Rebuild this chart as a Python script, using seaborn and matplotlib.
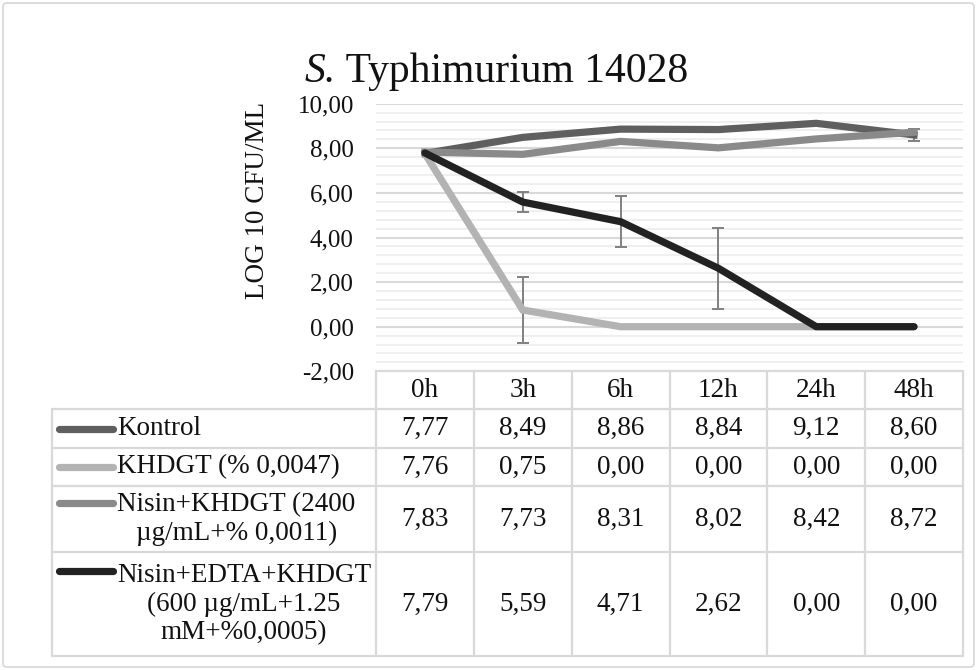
import matplotlib
matplotlib.use("Agg")
import matplotlib.pyplot as plt
import matplotlib.transforms as mtransforms
from matplotlib.lines import Line2D
from matplotlib.patches import FancyBboxPatch
from matplotlib.ticker import MultipleLocator, FuncFormatter
import numpy as np
import pandas as pd
import seaborn as sns

# ---------------- data ----------------
times = ["0h", "3h", "6h", "12h", "24h", "48h"]
series_names = [
    "Kontrol",
    "KHDGT (% 0,0047)",
    "Nisin+KHDGT (2400\nµg/mL+% 0,0011)",
    "Nisin+EDTA+KHDGT\n(600 µg/mL+1.25\nmM+%0,0005)",
]
kontrol = [7.77, 8.49, 8.86, 8.84, 9.12, 8.60]
khdgt = [7.76, 0.75, 0.00, 0.00, 0.00, 0.00]
nisin_khdgt = [7.83, 7.73, 8.31, 8.02, 8.42, 8.72]
nisin_edta_khdgt = [7.79, 5.59, 4.71, 2.62, 0.00, 0.00]

err_kontrol = [0, 0, 0, 0, 0, 0.28]
err_khdgt = [0, 1.48, 0, 0, 0, 0]
err_nisin_khdgt = [0, 0, 0, 0, 0, 0]
err_nisin_edta_khdgt = [0, 0.45, 1.14, 1.81, 0, 0]

title_italic = "S."
title_rest = " Typhimurium 14028"
y_label = "LOG 10 CFU/ML"

colors = ["#5f5f5f", "#b3b3b3", "#8a8a8a", "#222222"]
all_vals = [kontrol, khdgt, nisin_khdgt, nisin_edta_khdgt]
all_errs = [err_kontrol, err_khdgt, err_nisin_khdgt, err_nisin_edta_khdgt]

# ---------------- style ----------------
sns.set_theme(style="white")
plt.rcParams["font.family"] = ["Liberation Serif", "DejaVu Serif"]

W, H = 977, 670
fig = plt.figure(figsize=(W / 100, H / 100), dpi=100)
pix = mtransforms.Affine2D().scale(1 / W, -1 / H).translate(0, 1) + fig.transFigure

# outer border
fig.add_artist(FancyBboxPatch((3, 3), 971, 664, boxstyle="round,pad=0,rounding_size=4",
                              transform=pix, fill=False, ec="#d9d9d9", lw=1.3))

top_px, bot_px, left_px, right_px = 103.7, 371.3, 376, 963
ax = fig.add_axes([left_px / W, 1 - bot_px / H, (right_px - left_px) / W, (bot_px - top_px) / H])

# error bars (behind lines)
for vals, errs in zip(all_vals, all_errs):
    idx = [i for i, e in enumerate(errs) if e > 0]
    if idx:
        ax.errorbar(idx, [vals[i] for i in idx], yerr=[errs[i] for i in idx], fmt="none",
                    ecolor="#808080", elinewidth=1.4, capsize=4.5, capthick=1.4, zorder=2)

# lines
for name, vals, c in zip(series_names, all_vals, colors):
    df = pd.DataFrame({"time": times, "value": vals})
    sns.lineplot(data=df, x="time", y="value", color=c, linewidth=5.2, sort=False, ax=ax, zorder=3)
for ln, cap in zip(ax.lines[-4:], ["projecting", "butt", "projecting", "round"]):
    ln.set_solid_capstyle(cap)
    ln.set_solid_joinstyle("miter" if cap != "round" else "round")

ax.set_xlim(-0.5, len(times) - 0.5)
ax.set_ylim(-2, 10)
ax.yaxis.set_major_locator(MultipleLocator(2))
ax.yaxis.set_minor_locator(MultipleLocator(0.4))
ax.yaxis.set_major_formatter(FuncFormatter(lambda v, p: f"{v:.2f}".replace(".", ",")))
ax.grid(True, which="major", axis="y", color="#d9d9d9", lw=1.5, zorder=0)
ax.grid(True, which="minor", axis="y", color="#efefef", lw=1.4, zorder=0)
ax.grid(False, axis="x")
for s in ax.spines.values():
    s.set_visible(False)
ax.tick_params(axis="y", which="both", length=0, pad=16, labelsize=18, labelcolor="#111111")
ax.tick_params(axis="x", which="both", length=0, labelbottom=False)
ax.set_xlabel("")
ax.set_ylabel("")

# title (italic genus initial + regular rest), centred as a whole
renderer = fig.canvas.get_renderer()
t1 = fig.text(0, 0, title_italic, fontsize=30, style="italic", color="#111111",
              ha="left", va="baseline")
t2 = fig.text(0, 0, title_rest, fontsize=30, color="#111111", ha="left", va="baseline")
w1 = t1.get_window_extent(renderer).width
w2 = t2.get_window_extent(renderer).width
cx, base = 496, 82
x0 = cx - (w1 + w2) / 2
t1.set_transform(pix); t1.set_position((x0, base))
t2.set_transform(pix); t2.set_position((x0 + w1, base))

fig.text(257 / W, 1 - 200 / H, y_label, rotation=90, ha="center", va="center",
         fontsize=19.5, color="#111111")

# ---------------- data table ----------------
tcol = mtransforms.blended_transform_factory(ax.transData, pix)
row_edges = [bot_px, 409, 448, 486, 552, 656]
grid_c = "#d9d9d9"
tlw = 1.6
ncol = len(times)
col_edges = [i - 0.5 for i in range(ncol + 1)]
fig.add_artist(Line2D([-0.5, ncol - 0.5], [row_edges[0]] * 2, transform=tcol, color=grid_c, lw=tlw))
for y in row_edges[1:]:
    fig.add_artist(Line2D([52, right_px], [y, y], transform=pix, color=grid_c, lw=tlw))
for xe in col_edges:
    fig.add_artist(Line2D([xe, xe], [row_edges[0], row_edges[-1]], transform=tcol, color=grid_c, lw=tlw))
fig.add_artist(Line2D([52, 52], [row_edges[1], row_edges[-1]], transform=pix, color=grid_c, lw=tlw))

fs_tab = 19.5
hy = (row_edges[0] + row_edges[1]) / 2
for i, t in enumerate(times):
    fig.text(i, hy, t, transform=tcol, ha="center", va="center", fontsize=fs_tab, color="#111111")

line_step = 33
for r, (name, vals, c) in enumerate(zip(series_names, all_vals, colors)):
    cy = (row_edges[r + 1] + row_edges[r + 2]) / 2
    nlines = name.count("\n") + 1
    first_y = cy - (nlines - 1) / 2 * line_step
    fig.add_artist(Line2D([59, 113], [first_y, first_y], transform=pix, color=c, lw=5.2,
                          solid_capstyle="round"))
    fig.text(117, cy, name, transform=pix, ha="left", va="center", multialignment="center",
             fontsize=fs_tab, color="#111111", linespacing=1.2)
    for i, v in enumerate(vals):
        fig.text(i, cy, f"{v:.2f}".replace(".", ","), transform=tcol, ha="center", va="center",
                 fontsize=fs_tab, color="#111111")

fig.savefig("out.png", dpi=100, facecolor="white")
